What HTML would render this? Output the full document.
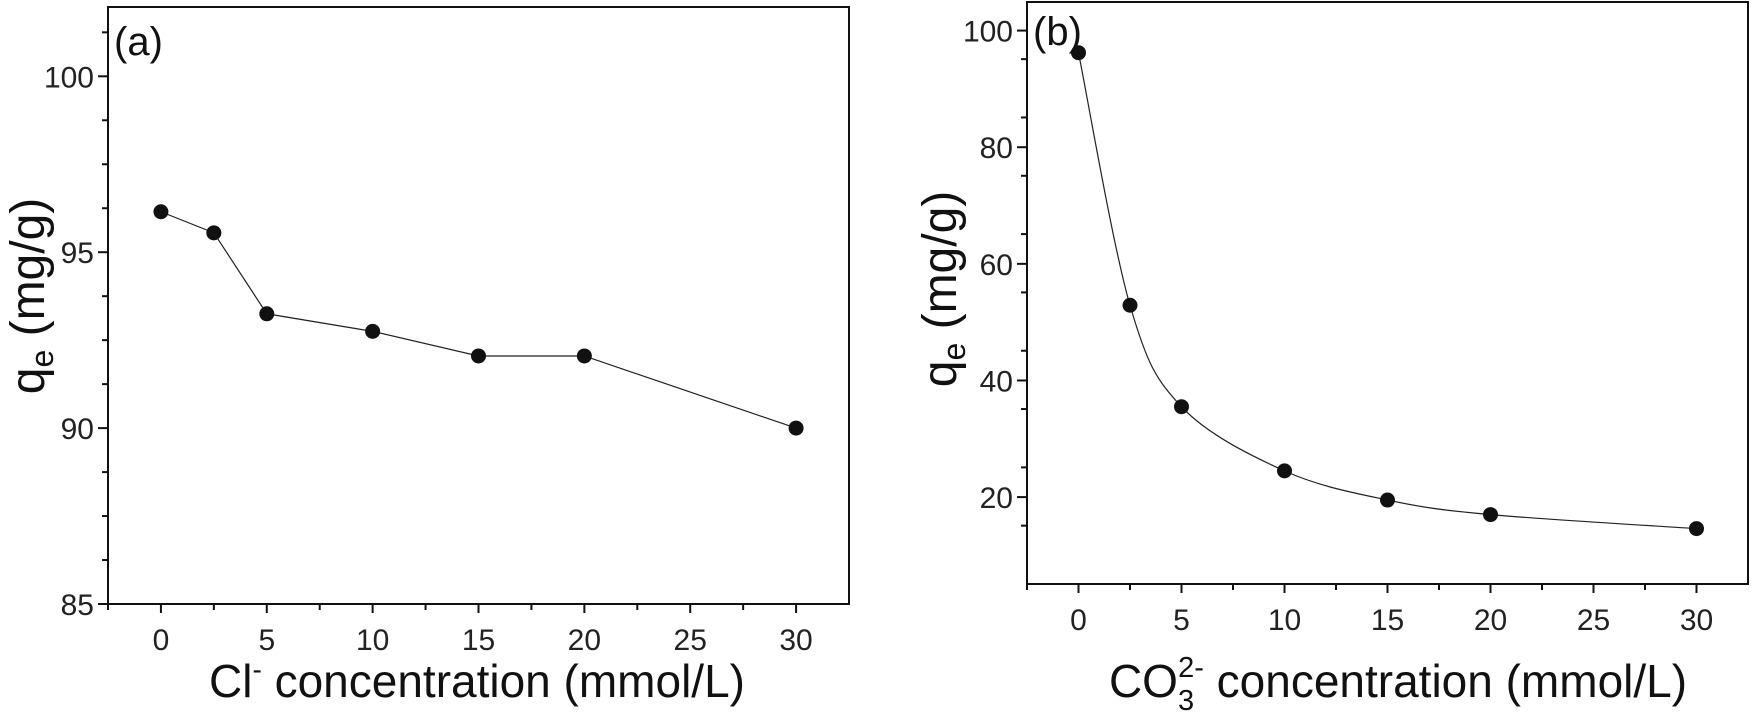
<!DOCTYPE html>
<html><head><meta charset="utf-8"><style>
body{margin:0;background:#fff;}
svg{display:block;font-family:"Liberation Sans",Arial,sans-serif;}
</style></head><body>
<svg id="chart" width="1751" height="720" viewBox="0 0 1751 720" xmlns="http://www.w3.org/2000/svg">
<g id="pa"></g>
<g id="pb"></g>
</svg>
<script>
const xCats = [0, 2.5, 5, 10, 15, 20, 30];
const clValues = [96.15, 95.55, 93.25, 92.75, 92.05, 92.05, 90.0];
const co3Values = [96.2, 52.9, 35.5, 24.5, 19.5, 17.0, 14.6];
const xTickLabels = ["0", "5", "10", "15", "20", "25", "30"];
const aYTickLabels = ["85", "90", "95", "100"];
const bYTickLabels = ["20", "40", "60", "80", "100"];

const NS = "http://www.w3.org/2000/svg";
function mk(tag, attrs, parent) {
  const e = document.createElementNS(NS, tag);
  for (const k in attrs) e.setAttribute(k, attrs[k]);
  parent.appendChild(e);
  return e;
}

function panel(g, cfg) {
  const sx = v => cfg.x0 + (v - cfg.xmin) / (cfg.xmax - cfg.xmin) * (cfg.x1 - cfg.x0);
  const sy = v => cfg.y1 - (v - cfg.ymin) / (cfg.ymax - cfg.ymin) * (cfg.y1 - cfg.y0);
  const frame = mk("rect", {x: cfg.x0, y: cfg.y0, width: cfg.x1 - cfg.x0, height: cfg.y1 - cfg.y0, fill: "none", stroke: "#111", "stroke-width": 2}, g);
  
  
  xTickLabels.forEach(t => {
    const v = +t;
    const x = sx(v);
    const tk = mk("line", {x1: x, x2: x, y1: cfg.y1, y2: cfg.y1 + 9, stroke: "#111", "stroke-width": 2}, g);
    
    
    const mx = sx(v - 2.5);
    const mt = mk("line", {x1: mx, x2: mx, y1: cfg.y1, y2: cfg.y1 + 6, stroke: "#111", "stroke-width": 2}, g);
    
    
    const lb = mk("text", {x: x, y: cfg.y1 + 46, "font-size": 30, "text-anchor": "middle", fill: "#222"}, g);
    lb.textContent = t;
    
    
  });
  cfg.yLabels.forEach(t => {
    const v = +t;
    const y = sy(v);
    const tk = mk("line", {x1: cfg.x0 - 10, x2: cfg.x0, y1: y, y2: y, stroke: "#111", "stroke-width": 2}, g);
    
    
    const lb = mk("text", {x: cfg.x0 - 14, y: y + 11, "font-size": 30, "text-anchor": "end", fill: "#222"}, g);
    lb.textContent = t;
    
    
  });
  for (let v = cfg.ymin; v <= cfg.ymax + 1e-6; v += cfg.minor) {
    if (Math.abs((v - cfg.yLabels[0]) % cfg.major) < 1e-6) continue;
    if (v <= cfg.ymin + 1e-6) continue;
    const y = sy(v);
    const mt = mk("line", {x1: cfg.x0 - 6, x2: cfg.x0, y1: y, y2: y, stroke: "#111", "stroke-width": 2}, g);
    
    
  }
  const pts = xCats.map((c, i) => [sx(c), sy(cfg.values[i])]);
  let d = "M" + pts[0][0] + "," + pts[0][1];
  if (cfg.smooth) {
    for (let i = 0; i < pts.length - 1; i++) {
      const p0 = pts[Math.max(0, i - 1)], p1 = pts[i], p2 = pts[i + 1], p3 = pts[Math.min(pts.length - 1, i + 2)];
      const c1 = [p1[0] + (p2[0] - p0[0]) / 6, p1[1] + (p2[1] - p0[1]) / 6];
      const c2 = [p2[0] - (p3[0] - p1[0]) / 6, p2[1] - (p3[1] - p1[1]) / 6];
      d += " C" + c1 + " " + c2 + " " + p2;
    }
  } else {
    for (let i = 1; i < pts.length; i++) d += " L" + pts[i][0] + "," + pts[i][1];
  }
  const ln = mk("path", {d: d, fill: "none", stroke: "#222", "stroke-width": 1.2}, g);
  
  
  pts.forEach(p => {
    const c = mk("circle", {cx: p[0], cy: p[1], r: 7.5, fill: "#111"}, g);
    
    
  });
  const pl = mk("text", {x: cfg.x0 + 6, y: cfg.panelY, "font-size": 40, fill: "#111"}, g);
  pl.textContent = cfg.panelLabel;
  
  
  const yt = mk("text", {transform: "translate(" + cfg.ytX + "," + cfg.ytY + ") rotate(-90)", "font-size": 48, "text-anchor": "middle", fill: "#111"}, g);
  
  
  yt.innerHTML = 'q<tspan font-size="32" dy="9">e</tspan><tspan dy="-9"> (mg/g)</tspan>';
  const xt = mk("text", {x: cfg.xtX, y: 697, "font-size": 46, "text-anchor": "middle", fill: "#111"}, g);
  
  
  xt.innerHTML = cfg.xTitle;
}

panel(document.getElementById("pa"), {
  x0: 108, x1: 849, y0: 7, y1: 604, xmin: -2.5, xmax: 32.5, ymin: 85, ymax: 101.97,
  yLabels: aYTickLabels, major: 5, minor: 1.25, values: clValues, smooth: false,
  panelLabel: "(a)", panelY: 55, ytX: 44, ytY: 296, xtX: 477,
  xTitle: 'Cl<tspan font-size="28" dy="-18">-</tspan><tspan dy="18"> concentration (mmol/L)</tspan>'
});
panel(document.getElementById("pb"), {
  x0: 1027, x1: 1748, y0: 2, y1: 584, xmin: -2.5, xmax: 32.5, ymin: 5.1, ymax: 104.9,
  yLabels: bYTickLabels, major: 20, minor: 10, values: co3Values, smooth: true,
  panelLabel: "(b)", panelY: 45, ytX: 956, ytY: 289, xtX: 1398,
  xTitle: 'CO<tspan font-size="29" dy="13">3</tspan><tspan font-size="29" dx="-16" dy="-33">2-</tspan><tspan dy="20"> concentration (mmol/L)</tspan>'
});
</script>
</body></html>
